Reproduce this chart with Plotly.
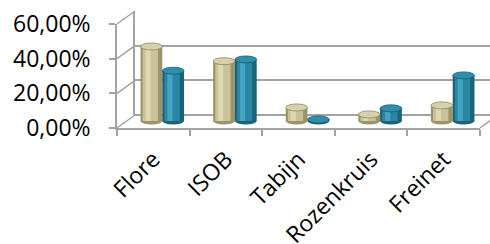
import plotly.graph_objects as go

categories = ["Flore", "ISOB", "Tabijn", "Rozenkruis", "Freinet"]
series_a = [43.0, 34.5, 7.8, 3.8, 9.0]      # beige
series_b = [29.0, 35.5, 0.9, 7.3, 26.3]     # teal
y_ticks = [0, 20, 40, 60]
y_tick_labels = ["0,00%", "20,00%", "40,00%", "60,00%"]

W, H = 490, 244
GRAY = "#A3A3A3"
FONT = "Open Sans"
FS = 23

# pixel geometry of the 3D frame
FX0, FX1 = 117, 480      # front x extent
FY0, FY1 = 128, 24       # front y (0% and 60%)
DX, DY = 18, 13          # depth offset to back wall
YMAX = 60.0
ppu = (FY0 - FY1) / YMAX

def xd(px): return px / W
def yd(py): return (H - py) / H

front_x = [xd(FX0), xd(FX1)]
front_y = [yd(FY0), yd(FY1)]
back_x = [xd(FX0 + DX), min(1.0, xd(FX1 + DX))]
back_y = [yd(FY0 - DY), yd(FY1 - DY)]
mid_dx, mid_dy = DX / 2, DY / 2 + 0.5
PAD = 5.0
mid_x = [xd(FX0 + mid_dx), xd(FX1 + mid_dx)]
mid_y = [yd(FY0 - mid_dy + PAD * ppu), yd(FY1 - mid_dy)]

n = len(categories)
xs = list(range(n))

fig = go.Figure()

# invisible carriers so the front and back-wall axes are drawn
for xa, ya in (("x", "y"), ("x2", "y2")):
    fig.add_trace(go.Scatter(x=xs, y=series_a, mode="markers", marker=dict(opacity=0),
                             xaxis=xa, yaxis=ya, hoverinfo="skip"))

specs = [
    (series_a, -0.30, ["#9C946B", "#C9C197", "#DDD7B6"], "#D6D0AD", "#8E875F"),
    (series_b, 0.0, ["#1D6378", "#2A87A4", "#44A4C1"], "#2E8FAC", "#1A5A6D"),
]
shapes = []
for vals, off, cols, topcol, edge in specs:
    fig.add_trace(go.Bar(x=xs, y=vals, offset=off, width=0.30, marker_color=cols[0],
                         marker_line_width=0, xaxis="x3", yaxis="y3", hoverinfo="skip"))
    fig.add_trace(go.Bar(x=xs, y=vals, offset=off + 0.03, width=0.21, marker_color=cols[1],
                         marker_line_width=0, xaxis="x3", yaxis="y3", hoverinfo="skip"))
    fig.add_trace(go.Bar(x=xs, y=vals, offset=off + 0.07, width=0.07, marker_color=cols[2],
                         marker_line_width=0, xaxis="x3", yaxis="y3", hoverinfo="skip"))
    for i, v in zip(xs, vals):
        shapes.append(dict(type="circle", xref="x3", yref="y3", x0=i + off, x1=i + off + 0.30,
                           ysizemode="pixel", yanchor=0, y0=-3.5, y1=3.5,
                           fillcolor=cols[0], line=dict(width=0), layer="below"))
        shapes.append(dict(type="circle", xref="x3", yref="y3", x0=i + off, x1=i + off + 0.30,
                           ysizemode="pixel", yanchor=v, y0=-3.5, y1=3.5,
                           fillcolor=topcol, line=dict(width=0.8, color=edge), layer="above"))

for t in y_ticks:
    py = front_y[0] + t / YMAX * (front_y[1] - front_y[0])
    shapes.append(dict(type="line", xref="paper", yref="paper", x0=front_x[0], y0=py,
                       x1=front_x[0] + DX / W, y1=py + DY / H,
                       line=dict(color=GRAY, width=1.5), layer="below"))
shapes.append(dict(type="line", xref="paper", yref="paper", x0=front_x[1], y0=front_y[0],
                   x1=front_x[1] + DX / W, y1=front_y[0] + DY / H,
                   line=dict(color=GRAY, width=1.5), layer="below"))

fig.update_layout(
    template="none",
    width=W, height=H,
    margin=dict(l=0, r=0, t=0, b=0, pad=0),
    paper_bgcolor="white", plot_bgcolor="rgba(0,0,0,0)",
    showlegend=False, barmode="overlay",
    font=dict(family=FONT, size=FS, color="#000000"),
    shapes=shapes,
    xaxis=dict(domain=front_x, anchor="y", range=[-0.5, n - 0.5], automargin=False,
               tickmode="array", tickvals=xs, ticktext=categories, tickangle=-45,
               ticks="", showline=True, linecolor=GRAY, linewidth=1.5,
               showgrid=False, zeroline=False, ticklabelstandoff=7,
               tickfont=dict(family=FONT, size=FS),
               minor=dict(tickmode="array", tickvals=[i - 0.5 for i in range(n + 1)],
                          ticks="outside", ticklen=6, tickcolor=GRAY, tickwidth=1.5,
                          showgrid=False)),
    yaxis=dict(domain=front_y, anchor="x", range=[0, YMAX], automargin=False,
               tickmode="array", tickvals=y_ticks, ticktext=y_tick_labels,
               ticks="outside", ticklen=6, tickcolor=GRAY, tickwidth=1.5,
               showline=True, linecolor=GRAY, linewidth=1.5,
               showgrid=False, zeroline=False, ticklabelstandoff=14,
               tickfont=dict(family=FONT, size=FS)),
    xaxis2=dict(domain=back_x, anchor="y2", range=[-0.5, n - 0.5], visible=False,
                automargin=False),
    yaxis2=dict(domain=back_y, anchor="x2", range=[0, YMAX], tickmode="array",
                tickvals=y_ticks, showticklabels=False, ticks="", automargin=False,
                showgrid=True, gridcolor=GRAY, gridwidth=1.5,
                zeroline=True, zerolinecolor=GRAY, zerolinewidth=1.5,
                showline=True, linecolor=GRAY, linewidth=1.5),
    xaxis3=dict(domain=mid_x, anchor="y3", range=[-0.5, n - 0.5], visible=False,
                automargin=False),
    yaxis3=dict(domain=mid_y, anchor="x3", range=[-PAD, YMAX], visible=False,
                automargin=False),
)

fig.write_html("out.html", config={"displayModeBar": False},
               post_script="document.body.style.margin='0';")
